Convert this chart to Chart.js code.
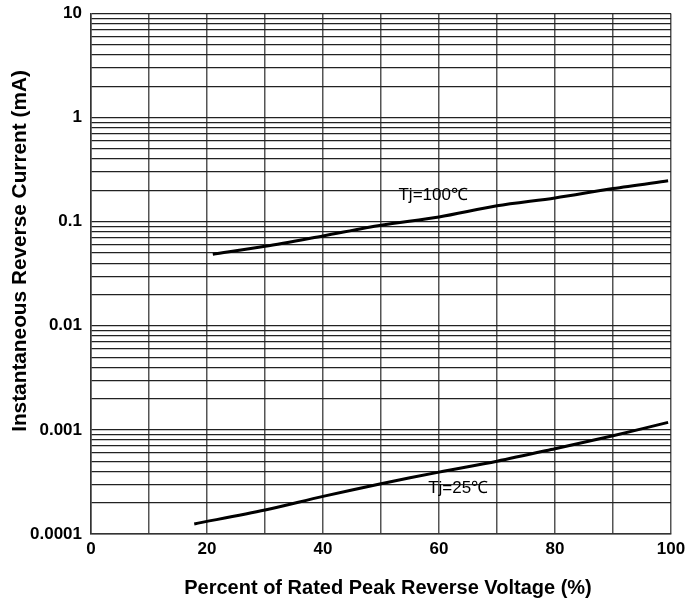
<!DOCTYPE html>
<html>
<head>
<meta charset="utf-8">
<script src="https://cdn.jsdelivr.net/npm/chart.js@4.4.0/dist/chart.umd.min.js"></script>
<style>
html,body{margin:0;padding:0;background:#fff;}
#wrap{width:697px;height:608px;position:relative;}
</style>
</head>
<body>
<div id="wrap"><canvas id="c" width="697" height="608"></canvas></div>
<script>
// Data
const xTj100 = [21, 30, 40, 50, 60, 70, 80, 90, 99.5];
const yTj100 = [0.0487, 0.058, 0.073, 0.0925, 0.111, 0.142, 0.169, 0.208, 0.247];
const xTj25 = [17.8, 30, 40, 50, 60, 70, 80, 90, 99.5];
const yTj25 = [0.000125, 0.00017, 0.00023, 0.000304, 0.000393, 0.0005, 0.00066, 0.00088, 0.00118];
const seriesLabels = ['Tj=100\u2103', 'Tj=25\u2103'];
const labelAnchors = [{x: 59, y: 0.18}, {x: 63.3, y: 0.000274}];
const xTicks = [0, 10, 20, 30, 40, 50, 60, 70, 80, 90, 100];
const xTickLabels = ['0', '', '20', '', '40', '', '60', '', '80', '', '100'];
const yDecades = [0.0001, 0.001, 0.01, 0.1, 1, 10];
const yDecadeLabels = ['0.0001', '0.001', '0.01', '0.1', '1', '10'];
const xTitle = 'Percent of Rated Peak Reverse Voltage (%)';
const yTitle = 'Instantaneous Reverse Current (mA)';

const yTickValues = [];
yDecades.forEach((d, i) => {
  if (i < yDecades.length - 1) {
    for (let m = 1; m <= 9; m++) yTickValues.push(+(d * m).toPrecision(3));
  } else yTickValues.push(d);
});

const toPts = (xs, ys) => xs.map((x, i) => ({x, y: ys[i]}));
const FONT = '"Liberation Sans", Arial, sans-serif';

const labelPlugin = {
  id: 'seriesLabels',
  afterDatasetsDraw(chart) {
    const {ctx, scales} = chart;
    ctx.save();
    ctx.font = '17px ' + FONT;
    ctx.fillStyle = '#000';
    ctx.textAlign = 'center';
    ctx.textBaseline = 'middle';
    labelAnchors.forEach((a, i) => {
      const px = scales.x.getPixelForValue(a.x);
      const py = scales.y.getPixelForValue(a.y);
      ctx.fillText(seriesLabels[i], px, py);
    });
    // axis titles
    ctx.font = 'bold 20px ' + FONT;
    ctx.textBaseline = 'middle';
    ctx.fillText(xTitle, 388, 588);
    ctx.translate(20, 251);
    ctx.rotate(-Math.PI / 2);
    ctx.font = 'bold 20.8px ' + FONT;
    ctx.fillText(yTitle, 0, 0);
    ctx.restore();
  }
};

new Chart(document.getElementById('c'), {
  type: 'scatter',
  data: {
    datasets: [
      {label: seriesLabels[0], data: toPts(xTj100, yTj100), showLine: true, borderColor: '#000', borderWidth: 3, pointRadius: 0, tension: 0.3, fill: false},
      {label: seriesLabels[1], data: toPts(xTj25, yTj25), showLine: true, borderColor: '#000', borderWidth: 3, pointRadius: 0, tension: 0.3, fill: false}
    ]
  },
  options: {
    responsive: false,
    animation: false,
    devicePixelRatio: 1,
    layout: {padding: {left: 0, right: 26, top: 13.5, bottom: 0}},
    plugins: {legend: {display: false}, tooltip: {enabled: false}},
    scales: {
      x: {
        type: 'linear', min: 0, max: 100,
        afterBuildTicks: (s) => { s.ticks = xTicks.map(v => ({value: v})); },
        afterFit: (s) => { s.height = 74; s.paddingLeft = 0; s.paddingRight = 0; },
        ticks: {
          autoSkip: false, maxRotation: 0, padding: 5,
          color: '#000',
          font: {family: FONT, size: 17, weight: 'bold'},
          callback: (v, i) => xTickLabels[i]
        },
        grid: {color: '#555', lineWidth: 1.5, drawTicks: false},
        border: {color: '#333', width: 1.5}
      },
      y: {
        type: 'logarithmic', min: 0.0001, max: 10,
        afterBuildTicks: (s) => { s.ticks = yTickValues.map(v => ({value: v})); },
        afterFit: (s) => { s.width = 91; s.paddingTop = 0; s.paddingBottom = 0; },
        ticks: {
          autoSkip: false, padding: 9, color: '#000',
          font: {family: FONT, size: 17, weight: 'bold'},
          callback: (v) => {
            const k = yDecades.findIndex(d => Math.abs(d - v) / d < 1e-6);
            return k >= 0 ? yDecadeLabels[k] : '';
          }
        },
        grid: {color: '#222', lineWidth: 1.2, drawTicks: false},
        border: {color: '#333', width: 1.5}
      }
    }
  },
  plugins: [labelPlugin]
});
</script>
</body>
</html>
